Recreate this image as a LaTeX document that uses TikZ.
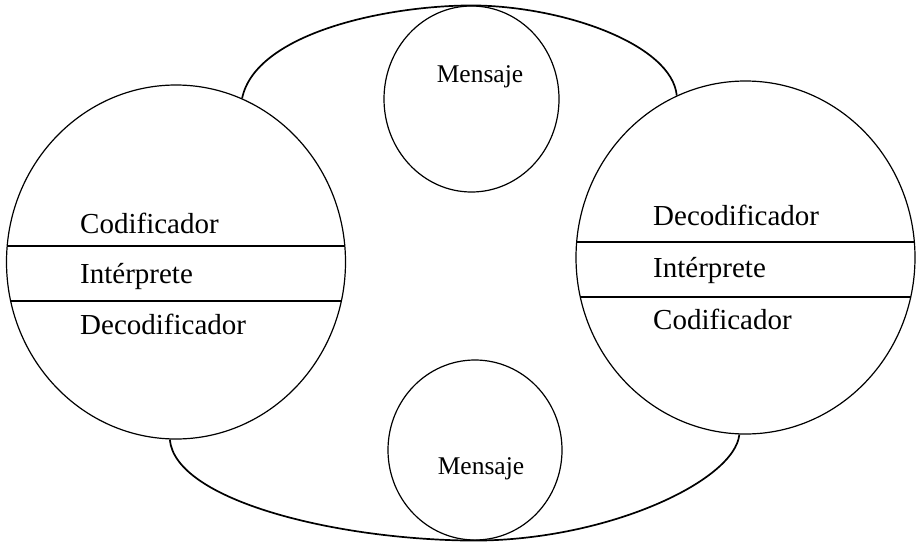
\documentclass[tikz,border=0pt]{standalone}
\usepackage{fontspec}
\setmainfont{Liberation Serif}
\usetikzlibrary{shapes.geometric}
\colorlet{penColor}{black}
\tikzset{
  wheel/.style={draw=penColor, ellipse, line width=1.2pt, inner sep=0pt},
  rolText/.style={anchor=base west, inner sep=0pt, font=\fontsize{29}{33}\selectfont},
  msgText/.style={anchor=base, inner sep=0pt, font=\fontsize{25.5}{30}\selectfont},
  loop/.style={draw=penColor, line width=1.7pt}
}

\begin{document}
\begin{tikzpicture}[x=1pt,y=-1pt]
\useasboundingbox (0,0) rectangle (917,546);
% the two big circles
\node[wheel, minimum width=339pt, minimum height=354pt] (emisor) at (176,262) {};
\node[wheel, minimum width=339pt, minimum height=353pt] (receptor) at (745.5,257.5) {};
% the two messages
\node[wheel, minimum width=175pt, minimum height=186pt] (msgTop) at (471.5,99) {};
\node[wheel, minimum width=174pt, minimum height=180pt] (msgBot) at (475,450) {};
% the loop round them
\draw[loop] (emisor.68) .. controls (255,35) and (380,6) .. (msgTop.north)
  .. controls (565,6) and (672,45) .. (receptor.113);
\draw[loop] (emisor.-92) .. controls (175,500) and (335,540) .. (msgBot.south)
  .. controls (610,540) and (735,480) .. (receptor.-92);
% bands
\begin{scope}
  \clip (176,262) ellipse [x radius=169.5pt, y radius=177pt];
  \draw[penColor, line width=1.2pt] (0,246) -- (360,246);
  \draw[penColor, line width=1.2pt] (0,301) -- (360,301);
\end{scope}
\begin{scope}
  \clip (745.5,257.5) ellipse [x radius=169.5pt, y radius=176.5pt];
  \draw[penColor, line width=1.2pt] (560,242) -- (917,242);
  \draw[penColor, line width=1.2pt] (560,297) -- (917,297);
\end{scope}
% labels
\node[rolText] (codA) at (80,233) {Codificador};
\node[rolText] (intA) at (80,283) {Intérprete};
\node[rolText] (decA) at (80,334) {Decodificador};
\node[rolText] (decB) at (653,225) {Decodificador};
\node[rolText] (intB) at (653,277) {Intérprete};
\node[rolText] (codB) at (653,329) {Codificador};
\node[msgText] (msgTopText) at (480,82) {Mensaje};
\node[msgText] (msgBotText) at (481,474) {Mensaje};
\end{tikzpicture}
\end{document}
